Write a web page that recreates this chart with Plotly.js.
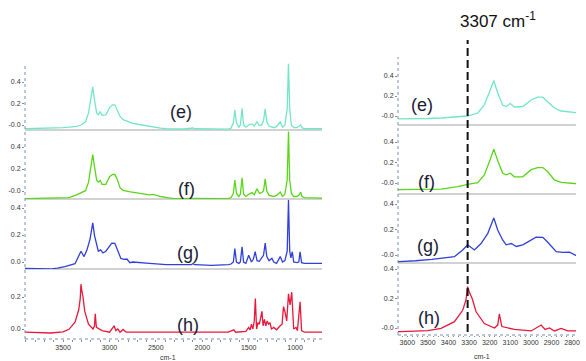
<!DOCTYPE html>
<html><head><meta charset="utf-8">
<script src="https://cdn.plot.ly/plotly-3.0.1.min.js"></script>
<style>html,body{margin:0;padding:0;background:#fff;}#chart{width:586px;height:361px;}</style>
</head><body><div id="chart"></div>
<script>
// ---- data (wavenumber cm-1, absorbance) ----
const PEAK_WN = 3307;
const seriesNames = ['(e)', '(f)', '(g)', '(h)'];
const xTitle = 'cm-1';

const wnE = [3910,3700,3640,3500,3436,3355,3307,3258,3226,3201,3180,3161,3137,3120,3100,3080,3039,2999,2967,2942,2918,2886,2853,2789,2748,2650,2569,2450,2390,2200,2120,2100,2080,1900,1720,1690,1665,1649,1632,1605,1590,1571,1555,1530,1500,1464,1440,1411,1385,1360,1340,1322,1305,1280,1230,1200,1160,1135,1110,1085,1071,1058,1040,1015,980,955,940,925,900,710];
const absE = [-0.035,-0.033,-0.03,-0.025,-0.02,-0.012,0.0,0.03,0.11,0.24,0.355,0.23,0.11,0.095,0.125,0.09,0.095,0.16,0.188,0.188,0.145,0.08,0.05,0.03,0.015,0.0,-0.015,-0.03,-0.035,-0.037,-0.03,-0.028,-0.035,-0.038,-0.038,-0.03,0.02,0.14,0.02,-0.02,0.0,0.155,0.0,-0.02,0.0,0.01,-0.01,0.03,-0.005,0.0,0.04,0.15,0.03,-0.01,-0.025,-0.015,0.03,-0.02,0.0,0.15,0.57,0.15,0.0,-0.025,-0.025,-0.01,0.0,-0.025,-0.035,-0.035];

const wnF = [3910,3640,3436,3355,3307,3258,3226,3201,3180,3161,3137,3120,3100,3080,3039,2999,2967,2942,2918,2886,2853,2789,2748,2650,2569,2530,2450,2380,2300,2100,1720,1690,1665,1649,1632,1605,1590,1571,1555,1530,1500,1464,1440,1411,1385,1360,1340,1322,1305,1280,1230,1200,1160,1135,1110,1085,1071,1058,1040,1015,980,955,940,925,900,710];
const absF = [-0.07,-0.068,-0.06,-0.036,-0.013,0.003,0.078,0.21,0.33,0.22,0.095,0.08,0.095,0.06,0.06,0.13,0.15,0.15,0.11,0.03,0.006,-0.005,-0.01,-0.02,-0.035,-0.03,-0.05,-0.06,-0.07,-0.068,-0.07,-0.06,-0.02,0.10,-0.02,-0.05,-0.03,0.12,-0.03,-0.05,-0.03,-0.015,-0.035,0.02,-0.02,-0.015,0.0,0.11,0.0,-0.04,-0.05,-0.04,-0.01,-0.05,-0.03,0.1,0.54,0.1,-0.02,-0.05,-0.05,-0.035,-0.01,-0.05,-0.06,-0.065];

const wnG = [3910,3640,3560,3480,3371,3331,3307,3274,3242,3209,3180,3161,3137,3120,3095,3071,3039,2999,2975,2942,2918,2877,2845,2812,2780,2748,2569,2390,2120,2100,2080,1900,1720,1690,1665,1649,1632,1605,1590,1571,1555,1530,1500,1470,1450,1430,1410,1385,1360,1340,1322,1305,1280,1250,1230,1200,1160,1135,1110,1085,1071,1058,1045,1030,1015,980,960,946,930,900,710];
const absG = [-0.047,-0.052,-0.045,-0.034,-0.013,0.04,0.08,0.04,0.09,0.17,0.29,0.196,0.118,0.08,0.09,0.067,0.08,0.118,0.14,0.138,0.10,0.026,0.02,0.022,-0.005,0.0,-0.01,-0.02,-0.02,-0.012,-0.02,-0.025,-0.02,-0.015,0.0,0.10,0.0,-0.01,0.0,0.113,0.0,-0.01,0.05,0.0,0.02,0.076,0.01,0.005,0.03,0.05,0.14,0.04,0.01,0.027,0.0,-0.01,0.04,0.0,0.01,0.08,0.46,0.08,0.03,0.076,0.0,-0.005,0.0,0.076,-0.005,-0.01,-0.01];

const wnH = [3910,3633,3500,3436,3371,3331,3315,3307,3298,3285,3266,3226,3177,3161,3153,3141,3080,2999,2950,2931,2910,2886,2853,2821,2700,2400,1720,1660,1640,1530,1500,1485,1470,1455,1440,1428,1415,1400,1385,1357,1345,1330,1315,1300,1285,1270,1255,1230,1200,1160,1140,1125,1110,1090,1071,1054,1036,1015,990,975,946,930,900,710];
const absH = [-0.02,-0.025,-0.018,-0.002,0.043,0.12,0.19,0.28,0.24,0.2,0.11,0.03,0.0,0.02,0.095,0.01,-0.01,-0.02,0.02,-0.01,0.0,-0.02,-0.003,-0.02,-0.02,-0.02,-0.02,-0.005,-0.02,-0.015,0.01,-0.005,0.03,0.0,0.05,0.19,0.0,0.04,0.03,0.11,0.02,0.06,0.02,0.05,0.03,0.04,0.0,0.01,-0.005,0.02,0.03,0.14,0.11,0.05,0.22,0.15,0.23,0.0,0.01,-0.01,0.17,-0.01,-0.02,-0.02];

const leftTickVals = [3500,3000,2500,2000,1500,1000];
const leftTickText = ['3500','3000','2500','2000','1500','1000'];
const rightTickVals = [3600,3500,3400,3300,3200,3100,3000,2900,2800];
const rightTickText = ['3600','3500','3400','3300','3200','3100','3000','2900','2800'];
const yTickVals = [0.4,0.2,0.0];

// ---- layout helpers ----
const W=586, H=361;
const fx = px => px/W;
const fy = py => 1 - py/H;
const FONT = '"Liberation Sans", Arial, sans-serif';
const colors = ['#72e6c6','#5ad61a','#3040d8','#e8183a'];
const spectra = [[wnE,absE],[wnF,absF],[wnG,absG],[wnH,absH]];

// panel geometry: top px, bottom px, zero px, px per unit, tick labels
const leftPanels = [
  {top:63, bot:130, zero:125, ppu:107.5, tt:['0.4','0.2','-0.0'], lab:[181,112]},
  {top:131, bot:199, zero:191, ppu:110, tt:['0.4','0.2','-0.0'], lab:[186,189]},
  {top:200, bot:269, zero:262, ppu:135, tt:['0.4','0.2','0.0'], lab:[188,253]},
  {top:270, bot:339, zero:329, ppu:160, tt:['0.4','0.2','0.0'], lab:[188,325]}
];
const rightPanels = [
  {top:58, bot:125, zero:116, ppu:100, tt:['0.4','0.2','-0.0'], lab:[422,105]},
  {top:126, bot:194, zero:183, ppu:102.5, tt:['0.4','0.2','-0.0'], lab:[426,182]},
  {top:195, bot:263, zero:255, ppu:127.5, tt:['0.4','0.2','-0.0'], lab:[428,246]},
  {top:264, bot:335, zero:328, ppu:147.5, tt:['0.4','0.2','-0.0'], lab:[429,318]}
];

const axisCol = '#7d8db0';
const tickFont = {family:FONT, size:7, color:'#333'};
const layout = {
  width:W, height:H, margin:{l:0,r:0,t:0,b:0},
  paper_bgcolor:'#fff', plot_bgcolor:'rgba(0,0,0,0)',
  showlegend:false, font:{family:FONT},
  xaxis:{domain:[fx(25),fx(322)], anchor:'y4', range:[3910,710], tickmode:'array',
    tickvals:leftTickVals, ticktext:leftTickText, ticks:'outside', ticklen:2, tickcolor:axisCol,
    tickfont:tickFont, showgrid:false, zeroline:false, showline:false,
    minor:{tickmode:'linear', tick0:0, dtick:100, ticks:'outside', ticklen:1.5, tickcolor:axisCol}},
  xaxis2:{domain:[fx(398),fx(576)], anchor:'y8', range:[3645,2781], tickmode:'array',
    tickvals:rightTickVals, ticktext:rightTickText, ticks:'outside', ticklen:1, tickcolor:axisCol,
    tickfont:tickFont, showgrid:false, zeroline:false, showline:false,
    minor:{tickmode:'linear', tick0:0, dtick:25, ticks:'outside', ticklen:1, tickcolor:axisCol}},
  shapes:[], annotations:[]
};

const traces = [];
function addPanel(p, i, xName, yIdx) {
  const key = 'yaxis' + (yIdx===1 ? '' : yIdx);
  const yRef = 'y' + (yIdx===1 ? '' : yIdx);
  layout[key] = {
    domain:[fy(p.bot), fy(p.top)], anchor:xName,
    range:[(p.zero-p.bot)/p.ppu, (p.zero-p.top)/p.ppu],
    tickmode:'array', tickvals:yTickVals, ticktext:p.tt, ticks:'outside', ticklen:2, tickcolor:axisCol,
    tickfont:tickFont, showgrid:false, zeroline:false, showline:false
  };
  traces.push({type:'scatter', mode:'lines', x:spectra[i][0], y:spectra[i][1],
    xaxis:xName, yaxis:yRef, line:{color:colors[i], width:1.3}, hoverinfo:'skip'});
  if (i < 3) {
    layout.shapes.push({type:'line', xref:xName+' domain', yref:yRef+' domain', x0:0, x1:1, y0:0, y1:0,
      line:{color:'#d2d2d2', width:2}, layer:'below'});
  } else {
    layout.shapes.push({type:'line', xref:xName+' domain', yref:yRef+' domain', x0:0, x1:1, y0:0, y1:0,
      line:{color:axisCol, width:1, dash:'dot'}});
  }
  layout.annotations.push({text:seriesNames[i], xref:'paper', yref:'paper', x:fx(p.lab[0]), y:fy(p.lab[1]),
    xanchor:'center', yanchor:'middle', showarrow:false, font:{family:FONT, size:18, color:'#1b1b33'}});
}
leftPanels.forEach((p,i)=>addPanel(p,i,'x',i+1));
rightPanels.forEach((p,i)=>addPanel(p,i,'x2',i+5));

// axis titles
layout.annotations.push({text:xTitle, xref:'paper', yref:'paper', x:fx(168), y:fy(357),
  xanchor:'center', yanchor:'middle', showarrow:false, font:{family:FONT, size:7, color:'#333'}});
layout.annotations.push({text:xTitle, xref:'paper', yref:'paper', x:fx(482), y:fy(356),
  xanchor:'center', yanchor:'middle', showarrow:false, font:{family:FONT, size:7, color:'#333'}});

// dotted y-axis lines
layout.shapes.push({type:'line', xref:'x domain', yref:'paper', x0:0, x1:0, y0:fy(339), y1:fy(63),
  line:{color:axisCol, width:1, dash:'dot'}});
layout.shapes.push({type:'line', xref:'x2 domain', yref:'paper', x0:0, x1:0, y0:fy(335), y1:fy(57),
  line:{color:axisCol, width:1, dash:'dot'}});
// dashed marker line at the peak
layout.shapes.push({type:'line', xref:'x2', yref:'paper', x0:PEAK_WN, x1:PEAK_WN, y0:fy(332), y1:fy(40),
  line:{color:'#111', width:2, dash:'8px,4px'}});
layout.annotations.push({text:PEAK_WN + ' cm<sup>-1</sup>', xref:'paper', yref:'paper', x:fx(498), y:fy(20),
  xanchor:'center', yanchor:'middle', showarrow:false, font:{family:FONT, size:17, color:'#111'}});

Plotly.newPlot('chart', traces, layout, {staticPlot:true, displayModeBar:false});
</script></body></html>
